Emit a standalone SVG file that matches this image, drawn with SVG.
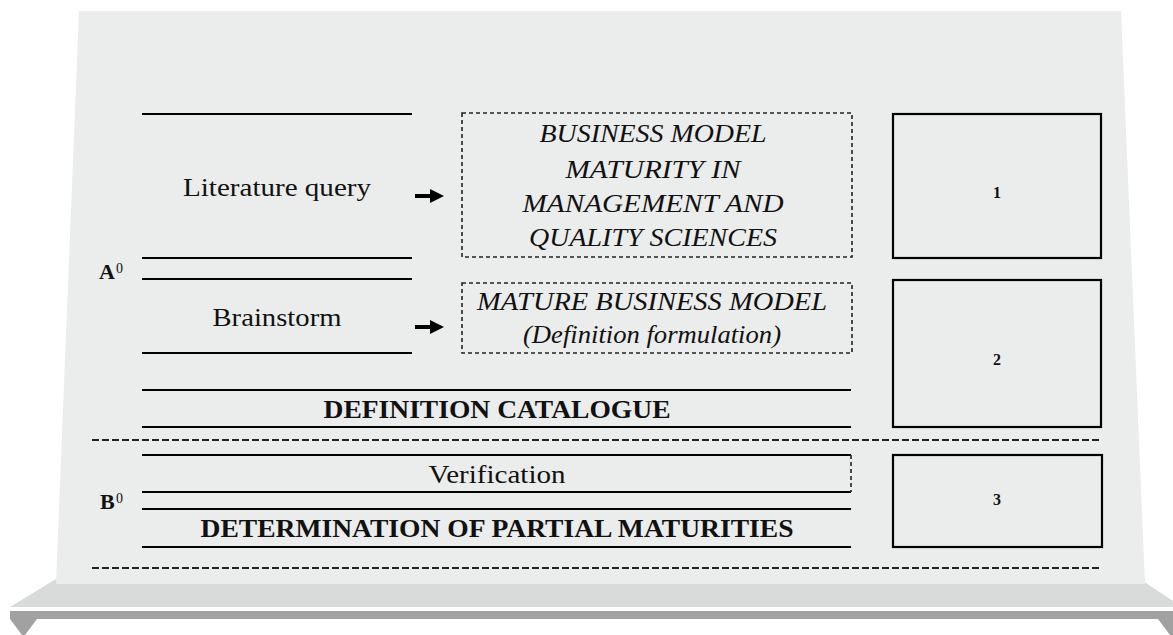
<svg xmlns="http://www.w3.org/2000/svg" width="1173" height="635" viewBox="0 0 1173 635">
<style>
.ln{stroke:#000;stroke-width:2;fill:none}
.box{stroke:#000;stroke-width:2.2;fill:none}
.dot{stroke:#222;stroke-width:1.6;fill:none;stroke-dasharray:4 3}
.dash{stroke:#222;stroke-width:1.8;fill:none;stroke-dasharray:7 3}
.t{font-family:"Liberation Serif","Times New Roman",serif;fill:#111;text-anchor:middle}
.it{font-style:italic;font-size:26px}
.reg{font-size:26px}
.bd{font-weight:bold;font-size:25px}
.num{font-size:16px;font-weight:bold}
.lab{font-family:"Liberation Serif","Times New Roman",serif;fill:#111}
</style>
<defs>
<marker id="ah" markerUnits="userSpaceOnUse" markerWidth="16" markerHeight="16" refX="2" refY="8" orient="auto">
<path d="M0,1 L14,8 L0,15 Z" fill="#000"/>
</marker>
</defs>
<rect width="1173" height="635" fill="#fff"/>
<g id="stand">
<polygon points="10,607 56,579 1140,579 1173,601 1173,607" fill="#d9dada"/>
<polygon points="79,11 1121,11 1145,584 56,584" fill="#ebecec"/>
<rect x="10" y="611" width="1163" height="8" fill="#a0a1a0"/>
<polygon points="10,619 37,619 23.5,637" fill="#a0a1a0"/>
<polygon points="1158,619 1185,619 1171.5,637" fill="#a0a1a0"/>
</g>
<g id="separators">
<line class="dash" x1="92" y1="440" x2="1102" y2="440"/>
<line class="dash" x1="92" y1="568" x2="1102" y2="568"/>
</g>
<g id="label-a">
<text class="lab" x="99" y="279" font-size="22" font-weight="bold">A</text>
<text class="lab" x="116" y="273" font-size="14">0</text>
</g>
<g id="label-b">
<text class="lab" x="100" y="509" font-size="22" font-weight="bold">B</text>
<text class="lab" x="116" y="503" font-size="14">0</text>
</g>
<g id="literature-query">
<line class="ln" x1="142" y1="114" x2="412" y2="114"/>
<line class="ln" x1="142" y1="258" x2="412" y2="258"/>
<text class="t reg" x="277" y="196" textLength="188" lengthAdjust="spacingAndGlyphs">Literature query</text>
</g>
<g id="brainstorm">
<line class="ln" x1="142" y1="279" x2="412" y2="279"/>
<line class="ln" x1="142" y1="353" x2="412" y2="353"/>
<text class="t reg" x="277" y="326" textLength="129" lengthAdjust="spacingAndGlyphs">Brainstorm</text>
</g>
<g id="bm-maturity">
<rect class="dot" x="462" y="113" width="390" height="144"/>
<text class="t it" x="653" y="142" textLength="227" lengthAdjust="spacingAndGlyphs">BUSINESS MODEL</text>
<text class="t it" x="653" y="178" textLength="175" lengthAdjust="spacingAndGlyphs">MATURITY IN</text>
<text class="t it" x="653" y="212" textLength="261" lengthAdjust="spacingAndGlyphs">MANAGEMENT AND</text>
<text class="t it" x="653" y="246" textLength="248" lengthAdjust="spacingAndGlyphs">QUALITY SCIENCES</text>
</g>
<g id="mature-bm">
<rect class="dot" x="462" y="283" width="390" height="70"/>
<text class="t it" x="652" y="310" textLength="350" lengthAdjust="spacingAndGlyphs">MATURE BUSINESS MODEL</text>
<text class="t it" x="652" y="343" textLength="258" lengthAdjust="spacingAndGlyphs">(Definition formulation)</text>
</g>
<g id="definition-catalogue">
<line class="ln" x1="142" y1="390" x2="851" y2="390"/>
<line class="ln" x1="142" y1="427" x2="851" y2="427"/>
<text class="t bd" x="497" y="418" textLength="347" lengthAdjust="spacingAndGlyphs">DEFINITION CATALOGUE</text>
</g>
<g id="verification">
<line class="ln" x1="142" y1="455" x2="851" y2="455"/>
<line class="ln" x1="142" y1="492" x2="851" y2="492"/>
<line class="dot" x1="851" y1="455" x2="851" y2="492"/>
<text class="t reg" x="497" y="483" font-size="25" textLength="137" lengthAdjust="spacingAndGlyphs">Verification</text>
</g>
<g id="partial-maturities">
<line class="ln" x1="142" y1="509" x2="851" y2="509"/>
<line class="ln" x1="142" y1="547" x2="851" y2="547"/>
<text class="t bd" x="497" y="537" textLength="593" lengthAdjust="spacingAndGlyphs">DETERMINATION OF PARTIAL MATURITIES</text>
</g>
<g id="box-1">
<rect class="box" x="893" y="114" width="208" height="144"/>
<text class="t num" x="997" y="198">1</text>
</g>
<g id="box-2">
<rect class="box" x="893" y="280" width="208" height="147"/>
<text class="t num" x="997" y="365">2</text>
</g>
<g id="box-3">
<rect class="box" x="893" y="455" width="209" height="92"/>
<text class="t num" x="997" y="505">3</text>
</g>
<g id="connectors">
<line x1="415" y1="196" x2="432" y2="196" stroke="#000" stroke-width="4" marker-end="url(#ah)"/>
<line x1="415" y1="327" x2="432" y2="327" stroke="#000" stroke-width="4" marker-end="url(#ah)"/>
</g>
</svg>
